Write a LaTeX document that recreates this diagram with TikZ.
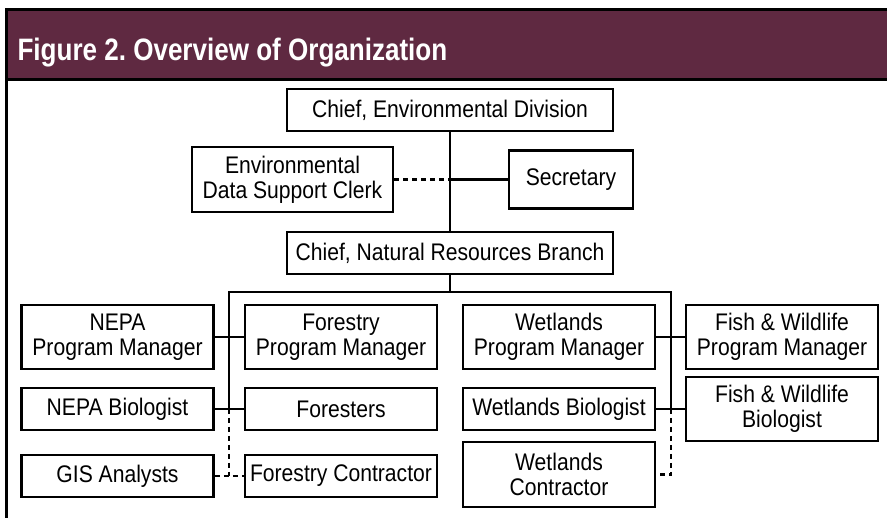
\documentclass[tikz,border=0pt]{standalone}
\usepackage{fontspec}
\setmainfont{Liberation Sans}[FakeStretch=0.88]
\newfontfamily\titlefont{Liberation Sans}[FakeStretch=0.84]
\usetikzlibrary{positioning,calc}
\definecolor{headplum}{HTML}{5F2941}
\frenchspacing

\begin{document}
\begin{tikzpicture}[
    x=1pt, y=-1pt,
    font=\fontsize{24}{25}\selectfont,
    unit/.style={draw, line width=2.8pt, inner sep=0pt, align=center, minimum height=42pt},
    wide/.style={unit, minimum width=326pt},
    col/.style={unit, minimum width=192pt},
    tall/.style={minimum height=64pt},
    link/.style={line width=2.6pt},
    aside/.style={link, dash pattern=on 5pt off 4pt}
]

    % --- frame ---
    \useasboundingbox (0,0) rectangle (887,518);
    \clip (0,0) rectangle (887,518);

    % header band
    \fill[headplum] (6,10) rectangle (900,80);
    \draw[line width=3pt] (900,10) -- (6,10) -- (6,518);
    \draw[line width=3pt] (6,80) -- (900,80);
    \node[anchor=base west, text=white, font=\titlefont\bfseries\fontsize{31}{31}\selectfont] (title) at (14,61) {Figure 2. Overview of Organization};

    % --- top of the tree ---
    \node[wide] (envchief) at (450,110) {Chief, Environmental Division};
    \node[unit, minimum width=201pt, minimum height=65pt] (clerk) at (292.5,179.5) {Environmental\\Data Support Clerk};
    \node[unit, minimum width=124pt, minimum height=58pt] (secretary) at (571,179.5) {Secretary};
    \node[wide] (nrbchief) at (450,253) {Chief, Natural Resources Branch};

    % --- program columns ---
    \node[col, tall] (nepapm) at (117.5,337) {NEPA\\Program Manager};
    \node[col, tall] (forpm)  at (341,337)   {Forestry\\Program Manager};
    \node[col, tall] (wetpm)  at (559,337)   {Wetlands\\Program Manager};
    \node[col, tall] (fwpm)   at (782,337)   {Fish \& Wildlife\\Program Manager};

    \node[col] (nepabio)   at (117.5,409) {NEPA Biologist};
    \node[col] (foresters) at (341,409)   {Foresters};
    \node[col] (wetbio)    at (559,409)   {Wetlands Biologist};
    \node[col, tall] (fwbio) at (782,409) {Fish \& Wildlife\\Biologist};

    \node[col] (gis)    at (117.5,476) {GIS Analysts};
    \node[col] (forcon) at (341,476)   {Forestry Contractor};
    \node[col, minimum height=65pt] (wetcon) at (559,474.5) {Wetlands\\Contractor};

    % --- junctions ---
    \coordinate (envjoint) at (envchief.south |- clerk.east);
    \coordinate (busmid)   at (450,292);
    \coordinate (busleft)  at (229,292);
    \coordinate (busright) at (671,292);
    \coordinate (leftdrop)  at (busleft |- nepabio.east);
    \coordinate (rightdrop) at (busright |- wetbio.east);
    \coordinate (leftend)   at (busleft |- gis.east);
    \coordinate (rightend)  at (busright |- wetcon.east);

    % 1. solid lines
    \draw[link] (envchief) -- (nrbchief);
    \draw[link] (envjoint) -- (secretary);
    \draw[link] (nrbchief) -- (busmid);
    \draw[link] (leftdrop) -- (busleft) -- (busright) -- (rightdrop);
    \draw[link] (nepapm) -- (forpm);
    \draw[link] (wetpm) -- (fwpm);
    \draw[link] (nepabio) -- (foresters);
    \draw[link] (wetbio.east) -- (wetbio.east -| fwbio.west);

    % 2. dashed lines
    \draw[aside] (clerk) -- (envjoint);
    \draw[aside] (leftdrop) -- (leftend);
    \draw[aside] (gis) -- (forcon);
    \draw[aside] (rightdrop) -- (rightend) -- (wetcon.east);
\end{tikzpicture}
\end{document}
